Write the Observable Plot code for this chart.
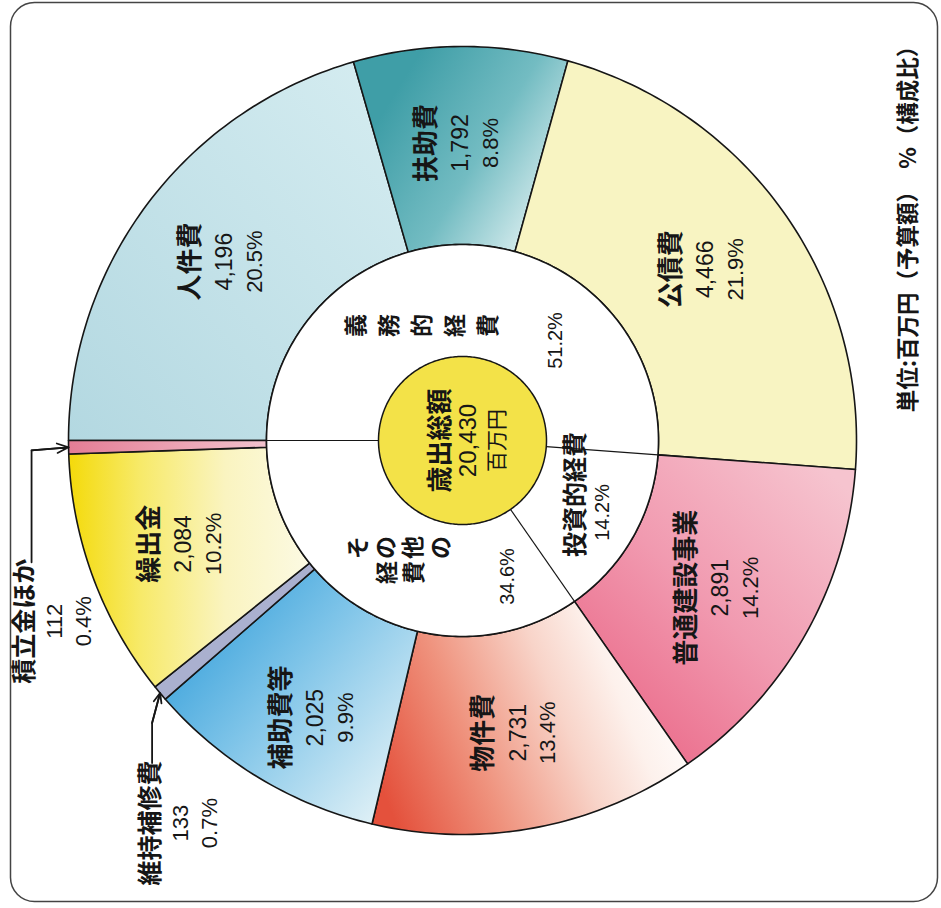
<!DOCTYPE html>
<html>
<head>
<meta charset="utf-8">
<script src="https://cdn.jsdelivr.net/npm/d3@7"></script>
<script src="https://cdn.jsdelivr.net/npm/@observablehq/plot@0.6"></script>
<style>
  html, body { margin: 0; padding: 0; background: #fff; }
</style>
</head>
<body>
<div id="chart"></div>
<script>
// ---------------- data ----------------
const categories = ["人件費", "扶助費", "公債費", "普通建設事業", "物件費", "補助費等", "維持補修費", "繰出金", "積立金ほか"];
const amounts = [4196, 1792, 4466, 2891, 2731, 2025, 133, 2084, 112];
const shares = [20.5, 8.8, 21.9, 14.2, 13.4, 9.9, 0.7, 10.2, 0.4];
const groupOf = [0, 0, 0, 1, 2, 2, 2, 2, 2];
const groupNames = ["義務的経費", "投資的経費", "その他の経費"];
const groupShares = [51.2, 14.2, 34.6];
const centerTitle = "歳出総額";
const centerUnit = "百万円";
const unitText = "単位:百万円（予算額）　%（構成比）";

// ---------------- styles ----------------
const sliceFill = ["url(#g0)", "url(#g1)", "#f8f4c2", "url(#g3)", "url(#g4)", "url(#g5)", "#aab0cf", "url(#g7)", "url(#g8)"];
const gradients = [
  {id: "g0", x1: 0, y1: 1, x2: 1, y2: 0, stops: [[0, "#b3d8e1"], [1, "#d6edf1"]]},
  {id: "g1", x1: 0.15, y1: 0.3, x2: 1, y2: 0.8, stops: [[0, "#3f9ea7"], [0.5, "#73bcc2"], [1, "#e9f5f6"]]},
  {id: "g3", x1: 0.1, y1: 0.95, x2: 0.9, y2: 0.05, stops: [[0, "#ea6585"], [0.5, "#f19ab0"], [1, "#f6c4cf"]]},
  {id: "g4", x1: 0, y1: 0.7, x2: 1, y2: 0.4, stops: [[0, "#e4513c"], [0.31, "#ef937e"], [0.61, "#f8d4c9"], [0.8, "#fdf1ec"], [1, "#ffffff"]]},
  {id: "g5", x1: 0.05, y1: 0.1, x2: 0.95, y2: 0.85, stops: [[0, "#2f9cd9"], [0.45, "#7cc3e8"], [1, "#dff0f6"]]},
  {id: "g7", x1: 0, y1: 0.5, x2: 1, y2: 0.5, stops: [[0, "#f4da0a"], [0.3, "#f7ea6a"], [0.65, "#faf4c0"], [1, "#fcfae3"]]},
  {id: "g8", x1: 0, y1: 0.5, x2: 1, y2: 0.5, stops: [[0, "#e47d95"], [1, "#f2c2cd"]]}
];
const JP = "'Noto Sans CJK JP', 'Noto Sans', sans-serif";
const NUM = "'Liberation Sans', Arial, sans-serif";
const INK = "#161616";

// ---------------- layout ----------------
const W = 941, H = 908, CX = 462, CY = 440, R = 394;
const R_IN = 196 / R, R_C = 84 / R, R_LAB = 0.755;
const px = p => p / R;

const total = d3.sum(amounts);
const cum = d3.cumsum(amounts);
const tStart = i => (cum[i] - amounts[i]) / total;
const tEnd = i => cum[i] / total;
const ang = t => Math.PI - 2 * Math.PI * t;      // start at left, clockwise
const pt = (t, r) => [r * Math.cos(ang(t)), r * Math.sin(ang(t))];
const polar = (a, r) => [r * Math.cos(a), r * Math.sin(a)];

function sector(ta, tb, r0, r1) {
  const n = Math.max(2, Math.ceil((tb - ta) * 360));
  const pts = [];
  for (let k = 0; k <= n; k++) pts.push(pt(ta + (tb - ta) * k / n, r1));
  for (let k = n; k >= 0; k--) pts.push(pt(ta + (tb - ta) * k / n, r0));
  pts.push(pts[0]);
  return pts;
}
function circle(r) {
  const pts = [];
  for (let k = 0; k <= 360; k++) pts.push(pt(k / 360, r));
  return pts;
}

// group boundaries
const groupStartIdx = groupNames.map((g, gi) => groupOf.indexOf(gi));
const groupEndIdx = groupNames.map((g, gi) => groupOf.lastIndexOf(gi));
const groupT0 = groupStartIdx.map(tStart);
const groupT1 = groupEndIdx.map(tEnd);
const groupMidAngle = groupNames.map((g, gi) => ang((groupT0[gi] + groupT1[gi]) / 2));

// slice labels (inside the ring)
const labelTweak = {5: {dDeg: 3.2, r: 0.796}};
const inside = [0, 1, 2, 3, 4, 5, 7].map(i => {
  const tw = labelTweak[i] || {dDeg: 0, r: R_LAB};
  const a = ang((tStart(i) + tEnd(i)) / 2) + tw.dDeg * Math.PI / 180;
  const [u, v] = polar(a, tw.r);
  return {u, v, name: categories[i], value: d3.format(",")(amounts[i]), pct: shares[i].toFixed(1) + "%"};
});

// outside annotations (leader lines with arrows), offsets in px from the arrow tip
const annotate = [
  {i: 8, path: [[-37, 115], [-37, 3]], label: [-14, 174]},
  {i: 6, path: [[-8, 70], [-8, 30]], label: [21, 130]}
].map(d => {
  const [tu, tv] = pt((tStart(d.i) + tEnd(d.i)) / 2, 1.0);
  const toUV = ([dx, dy]) => [tu + px(dx), tv - px(dy)];
  const pts = d.path.map(toUV).concat([[tu, tv]]);
  const [lu, lv] = toUV(d.label);
  return {pts, lu, lv, name: categories[d.i], value: d3.format(",")(amounts[d.i]), pct: shares[d.i].toFixed(1) + "%"};
});
const leaderPts = annotate.flatMap((d, k) => d.pts.map(p => ({x: p[0], y: p[1], k})));
const leaderHeads = annotate.map(d => ({x1: d.pts[d.pts.length - 2][0], y1: d.pts[d.pts.length - 2][1], x2: d.pts[d.pts.length - 1][0], y2: d.pts[d.pts.length - 1][1]}));

// group labels in the inner ring
const g = (gi, dDeg, r) => polar(groupMidAngle[gi] + dDeg * Math.PI / 180, r);
const vertical = s => s.split("").join("\n");
const groupTextV = [
  {p: g(0, 22.6, 0.3116), text: vertical(groupNames[0]), lh: 1.43},
  {p: g(2, -3.3, 0.3165), text: vertical(groupNames[2].slice(0, 4)), lh: 1.2},
  {p: g(2, 2.1, 0.3712), text: vertical(groupNames[2].slice(4)), lh: 1.2}
];
const groupTextH = [{p: g(1, 4.15, 0.318), text: groupNames[1]}];
const groupPct = [
  {p: g(0, -40.8, 0.3466), text: groupShares[0].toFixed(1) + "%"},
  {p: g(1, 2.5, 0.3995), text: groupShares[1].toFixed(1) + "%"},
  {p: g(2, 45.9, 0.3636), text: groupShares[2].toFixed(1) + "%"}
];
const dividers = groupT0.map(t => ({a: pt(t, R_C), b: pt(t, R_IN)}));

// ---------------- marks ----------------
const marks = [
  Plot.frame({rx: 24, insetLeft: 10, insetTop: 2, insetRight: 4, insetBottom: 7, stroke: "#444", strokeWidth: 1.5})
];
categories.forEach((c, i) => {
  marks.push(Plot.line(sector(tStart(i), tEnd(i), R_IN, 1), {
    x: d => d[0], y: d => d[1], fill: sliceFill[i], stroke: INK, strokeWidth: 1.6, curve: "linear"
  }));
});
marks.push(Plot.line(circle(R_IN), {x: d => d[0], y: d => d[1], fill: "#ffffff", stroke: INK, strokeWidth: 1.6}));
marks.push(Plot.link(dividers, {x1: d => d.a[0], y1: d => d.a[1], x2: d => d.b[0], y2: d => d.b[1], stroke: INK, strokeWidth: 1.1}));
marks.push(Plot.line(circle(R_C), {x: d => d[0], y: d => d[1], fill: "#f3e248", stroke: INK, strokeWidth: 1.5}));

// inside slice labels
marks.push(Plot.text(inside, {x: d => d.u - px(34), y: "v", text: "name", rotate: -90, fontSize: 26, fontWeight: "bold", fontFamily: JP, fill: INK}));
marks.push(Plot.text(inside, {x: "u", y: "v", text: "value", rotate: -90, fontSize: 23, fontFamily: NUM, fill: INK}));
marks.push(Plot.text(inside, {x: d => d.u + px(30), y: "v", text: "pct", rotate: -90, fontSize: 22, fontFamily: NUM, fill: INK}));

// outside annotations
marks.push(Plot.line(leaderPts, {x: "x", y: "y", z: "k", stroke: INK, strokeWidth: 1.8}));
marks.push(Plot.arrow(leaderHeads, {x1: "x1", y1: "y1", x2: "x2", y2: "y2", stroke: INK, strokeWidth: 1.8, headLength: 11, headAngle: 45}));
marks.push(Plot.text(annotate, {x: d => d.lu - px(30), y: "lv", text: "name", rotate: -90, fontSize: 25, fontWeight: "bold", fontFamily: JP, fill: INK}));
marks.push(Plot.text(annotate, {x: "lu", y: "lv", text: "value", rotate: -90, fontSize: 22, fontFamily: NUM, fill: INK}));
marks.push(Plot.text(annotate, {x: d => d.lu + px(29), y: "lv", text: "pct", rotate: -90, fontSize: 22, fontFamily: NUM, fill: INK}));

// inner ring labels
groupTextV.forEach(d => marks.push(Plot.text([d], {x: d => d.p[0], y: d => d.p[1], text: "text", rotate: -90, lineHeight: d.lh, fontSize: 23, fontWeight: "bold", fontFamily: JP, fill: INK})));
marks.push(Plot.text(groupTextH, {x: d => d.p[0], y: d => d.p[1], text: "text", rotate: -90, fontSize: 25, fontWeight: "bold", fontFamily: JP, fill: INK}));
marks.push(Plot.text(groupPct, {x: d => d.p[0], y: d => d.p[1], text: "text", rotate: -90, fontSize: 20, fontFamily: NUM, fill: INK}));

// center
marks.push(Plot.text([centerTitle], {x: () => px(-22), y: () => 0, text: d => d, rotate: -90, fontSize: 26, fontWeight: "bold", fontFamily: JP, fill: INK}));
marks.push(Plot.text([d3.format(",")(total)], {x: () => px(6), y: () => 0, text: d => d, rotate: -90, fontSize: 24, fontFamily: NUM, fill: INK}));
marks.push(Plot.text([centerUnit], {x: () => px(35), y: () => 0, text: d => d, rotate: -90, fontSize: 21, fontFamily: JP, fill: INK}));

// unit note
marks.push(Plot.text([unitText], {x: () => px(908 - CX), y: () => px(CY - 223), text: d => d, rotate: -90, fontSize: 22.5, fontWeight: "bold", fontFamily: JP, fill: INK}));

const chart = Plot.plot({
  width: W,
  height: H,
  margin: 0,
  x: {domain: [-CX / R, (W - CX) / R], axis: null},
  y: {domain: [-(H - CY) / R, CY / R], axis: null},
  style: {fontFamily: JP, background: "#ffffff"},
  marks
});

const defs = d3.select(chart).insert("defs", ":first-child");
gradients.forEach(gr => {
  const lg = defs.append("linearGradient").attr("id", gr.id)
    .attr("x1", gr.x1).attr("y1", gr.y1).attr("x2", gr.x2).attr("y2", gr.y2);
  gr.stops.forEach(s => lg.append("stop").attr("offset", s[0]).attr("stop-color", s[1]));
});

document.getElementById("chart").appendChild(chart);
</script>
</body>
</html>
